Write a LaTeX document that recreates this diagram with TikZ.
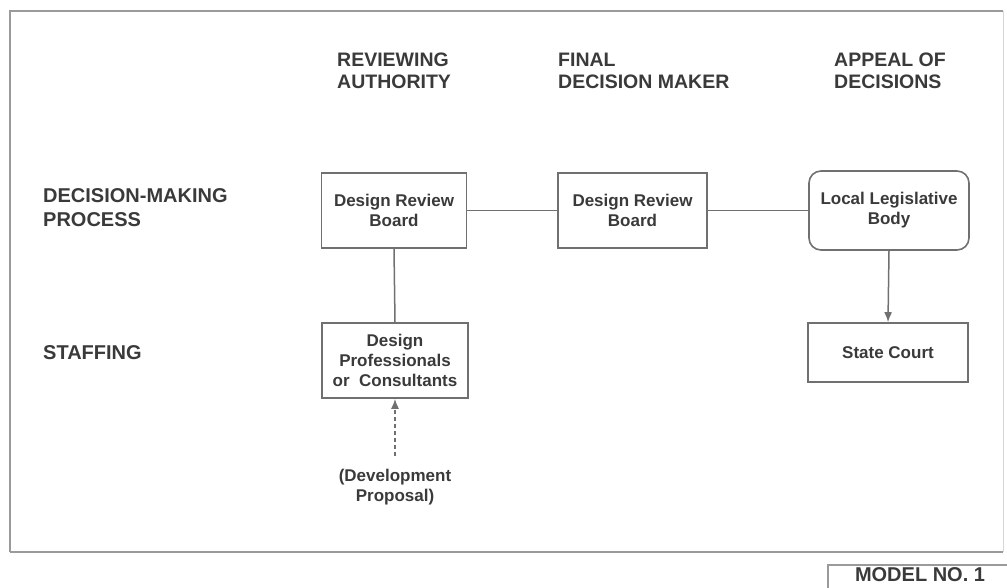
\documentclass[tikz,border=0pt]{standalone}
\usepackage{fontspec}
\setmainfont{Liberation Sans}
\usetikzlibrary{arrows.meta,positioning}
\definecolor{ink}{HTML}{3A3A3A}
\definecolor{rule}{HTML}{707070}
\definecolor{frame}{HTML}{9A9A9A}

\tikzset{
  head/.style={anchor=west,align=left,text=ink,inner sep=0pt,font=\fontsize{19.5}{22}\selectfont\bfseries},
  unit/.style={draw=rule,line width=1.6pt,align=center,text=ink,inner sep=0pt,
    font=\fontsize{17}{20}\selectfont\bfseries},
  link/.style={rule,line width=1.5pt},
  tip/.style={-{Latex[length=10pt,width=8pt]}}
}

\begin{document}
\begin{tikzpicture}[x=1pt,y=-1pt]
  \useasboundingbox (0,0) rectangle (1007,587);
  % frame
  \draw[frame,line width=2.6pt] (10,552) -- (10,11) -- (1003,11);
  \draw[frame,line width=2.6pt] (10,552) -- (1003,552);
  \draw[frame!40,line width=1pt] (1003,11) -- (1003,552);
  % column heads
  \node[head] (colA) at (337,71) {REVIEWING\\AUTHORITY};
  \node[head] (colB) at (558,71) {FINAL\\DECISION MAKER};
  \node[head] (colC) at (834,71) {APPEAL OF\\DECISIONS};
  % row heads
  \node[head,font=\fontsize{20}{24}\selectfont\bfseries] (rowA) at (43,208) {DECISION-MAKING\\PROCESS};
  \node[head,font=\fontsize{20}{24}\selectfont\bfseries] (rowB) at (43,353) {STAFFING};
  % boxes
  \node[unit,minimum width=145pt,minimum height=75pt] (drbA) at (394,210.5) {Design Review\\Board};
  \node[unit,minimum width=149pt,minimum height=75pt] (drbB) at (632.5,210.5) {Design Review\\Board};
  \node[unit,rounded corners=12pt,minimum width=160pt,minimum height=79pt] (llb) at (889,210.5) {Local Legislative\\Body};
  \node[unit,minimum width=146pt,minimum height=75pt] (dpc) at (395,360.5) {Design\\Professionals\\or\ \ Consultants};
  \node[unit,minimum width=160pt,minimum height=59pt] (court) at (888,352.5) {State Court};
  \node[align=center,text=ink,font=\fontsize{17}{20}\selectfont\bfseries] (prop) at (395,487) {(Development\\Proposal)};
  % links
  \draw[link] (drbA.east) -- (drbB.west);
  \draw[link] (drbB.east) -- (llb.west);
  \draw[link] (drbA.south) -- (dpc.north);
  \draw[link,tip] (llb.south) -- (court.north);
  \draw[link,dash pattern=on 4pt off 3pt,tip,shorten <=10pt] (prop.north) -- (dpc.south);
  % model tag
  \draw[frame,line width=2pt] (828,600) -- (828,565) -- (1010,565);
  \node[text=ink,font=\fontsize{20}{22}\selectfont\bfseries] (tag) at (920,575) {MODEL NO. 1};
\end{tikzpicture}
\end{document}
